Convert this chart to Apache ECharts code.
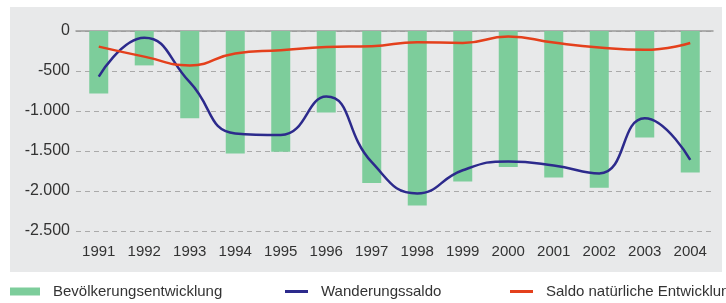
<!DOCTYPE html>
<html>
<head>
<meta charset="utf-8">
<script src="https://cdn.jsdelivr.net/npm/echarts@6/dist/echarts.min.js"></script>
<style>
  html, body { margin: 0; padding: 0; background: #fff; }
  #chart { width: 726px; height: 303px; }
</style>
</head>
<body>
<div id="chart"></div>
<script>
const years = ['1991', '1992', '1993', '1994', '1995', '1996', '1997', '1998', '1999', '2000', '2001', '2002', '2003', '2004'];
const bevoelkerung = [-780, -430, -1090, -1530, -1510, -1020, -1900, -2180, -1880, -1700, -1830, -1960, -1330, -1770];
const wanderung = [-570, -85, -640, -1280, -1300, -820, -1640, -2030, -1740, -1630, -1680, -1780, -1090, -1610];
const natuerlich = [-195, -320, -430, -280, -240, -200, -190, -140, -150, -70, -145, -205, -235, -150];
const seriesNames = ['Bevölkerungsentwicklung', 'Wanderungssaldo', 'Saldo natürliche Entwicklung'];

const green = '#7dcd9b';
const blue = '#2c2a8c';
const red = '#e4401c';
const fontFamily = 'Liberation Sans, Arial, sans-serif';

const chart = echarts.init(document.getElementById('chart'));

// deutsche Tausendertrennung: -1.500
function fmt(v) {
  const s = Math.abs(v).toString().replace(/\B(?=(\d{3})+(?!\d))/g, '.');
  return v < 0 ? '-' + s : s;
}

const legendBase = {
  orient: 'horizontal',
  top: 279,
  itemGap: 0,
  textStyle: { fontSize: 15, color: '#333', fontFamily: fontFamily, padding: [0, 0, 0, 8] }
};

chart.setOption({
  animation: false,
  graphic: [{
    type: 'rect',
    z: -10,
    shape: { x: 10, y: 7, width: 712, height: 265 },
    style: { fill: '#e8e9ea' },
    silent: true
  }],
  legend: [
    Object.assign({}, legendBase, { left: 5, data: [{ name: seriesNames[0], icon: 'rect' }], itemWidth: 30, itemHeight: 8 }),
    Object.assign({}, legendBase, { left: 280, data: [{ name: seriesNames[1], icon: 'rect' }], itemWidth: 23, itemHeight: 3 }),
    Object.assign({}, legendBase, { left: 505, data: [{ name: seriesNames[2], icon: 'rect' }], itemWidth: 23, itemHeight: 3 })
  ],
  grid: { left: 76, right: 13, top: 31, bottom: 72, containLabel: false },
  xAxis: [{
    type: 'category',
    data: years,
    axisLine: { show: false, onZero: false },
    axisTick: { show: false },
    axisLabel: { fontSize: 15, color: '#333', fontFamily: fontFamily, margin: 13 }
  }, {
    type: 'category',
    data: years,
    position: 'top',
    axisLine: { show: true, lineStyle: { color: '#999', width: 1.5 } },
    axisTick: { show: false },
    axisLabel: { show: false }
  }],
  yAxis: {
    type: 'value',
    min: -2500,
    max: 0,
    interval: 500,
    axisLine: { show: false },
    axisTick: { show: false },
    axisLabel: { fontSize: 16, color: '#333', fontFamily: fontFamily, margin: 6, formatter: fmt },
    splitLine: { lineStyle: { color: '#aaa', type: [5, 4] } }
  },
  series: [{
    name: seriesNames[0],
    type: 'bar',
    data: bevoelkerung,
    barWidth: 19,
    itemStyle: { color: green }
  }, {
    name: seriesNames[1],
    type: 'line',
    data: wanderung,
    smooth: 0.5,
    symbol: 'none',
    lineStyle: { color: blue, width: 2.5 },
    itemStyle: { color: blue }
  }, {
    name: seriesNames[2],
    type: 'line',
    data: natuerlich,
    smooth: 0.5,
    symbol: 'none',
    lineStyle: { color: red, width: 2.5 },
    itemStyle: { color: red }
  }]
});
</script>
</body>
</html>
